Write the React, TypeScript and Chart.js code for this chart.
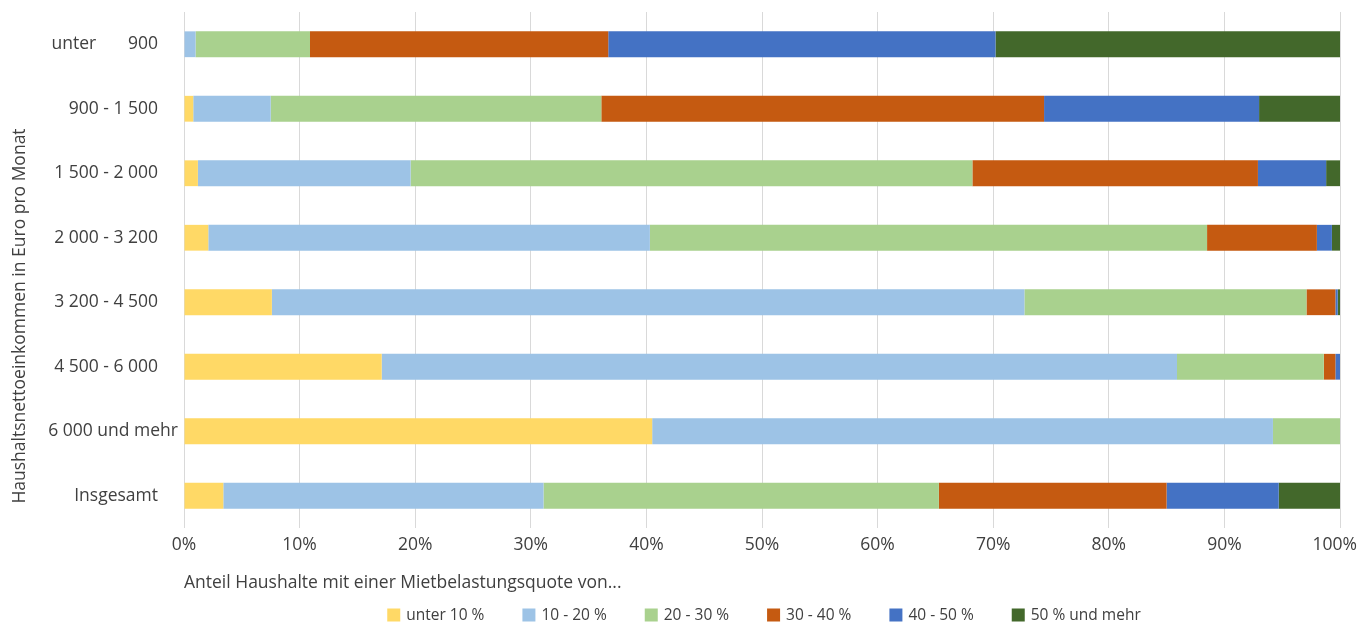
import React, { useEffect, useRef } from "react";
import { Chart, registerables } from "chart.js";

Chart.register(...registerables);

const categories = [
  "unter       900",
  "900 - 1 500",
  "1 500 - 2 000",
  "2 000 - 3 200",
  "3 200 - 4 500",
  "4 500 - 6 000",
  "6 000 und mehr",
  "Insgesamt",
];

const seriesNames = ["unter 10 %", "10 - 20 %", "20 - 30 %", "30 - 40 %", "40 - 50 %", "50 % und mehr"];
const seriesColors = ["#FFD966", "#9DC3E6", "#A9D18E", "#C55A11", "#4472C4", "#43682B"];

const unter10 = [0, 0.8, 1.2, 2.1, 7.6, 17.1, 40.5, 3.4];
const p10bis20 = [1.0, 6.7, 18.4, 38.2, 65.1, 68.8, 53.7, 27.7];
const p20bis30 = [9.9, 28.6, 48.6, 48.2, 24.4, 12.7, 5.8, 34.2];
const p30bis40 = [25.8, 38.3, 24.7, 9.5, 2.5, 1.0, 0, 19.7];
const p40bis50 = [33.5, 18.6, 5.9, 1.3, 0.2, 0.4, 0, 9.7];
const p50mehr = [29.8, 7.0, 1.2, 0.7, 0.2, 0, 0, 5.3];

const xTicks = [0, 10, 20, 30, 40, 50, 60, 70, 80, 90, 100];

const xTitle = "Anteil Haushalte mit einer Mietbelastungsquote von...";
const yTitle = "Haushaltsnettoeinkommen in Euro pro Monat";

const FONT = "'Open Sans', 'Noto Sans', sans-serif";
const TEXT = "#404040";

const overlay = {
  id: "overlay",
  beforeDraw(chart: any) {
    // Excel-like placement: keep the last x label inside the canvas and let the
    // long category label reach towards the plot area.
    const xs = chart.scales.x;
    const ys = chart.scales.y;
    if (xs && xs.getLabelItems) {
      const items = xs.getLabelItems();
      const last = items[items.length - 1];
      if (last) {
        last.options.textAlign = "right";
        last.options.translation = [chart.width - 3, last.options.translation[1]];
      }
    }
    if (ys && ys.getLabelItems) {
      const items = ys.getLabelItems();
      items.forEach((it: any) => {
        if (it.label === "6 000 und mehr") {
          it.options.translation = [it.options.translation[0] + 20, it.options.translation[1]];
        }
      });
    }
  },
  afterDraw(chart: any) {
    const ctx = chart.ctx as CanvasRenderingContext2D;
    // y axis title, centred over the full chart height (as in the original)
    ctx.save();
    ctx.fillStyle = TEXT;
    ctx.font = `17.5px ${FONT}`;
    ctx.textAlign = "center";
    ctx.textBaseline = "middle";
    ctx.translate(20, 316);
    ctx.rotate(-Math.PI / 2);
    ctx.fillText(yTitle, 0, 0);
    ctx.restore();

    // legend
    ctx.save();
    ctx.font = `15.5px ${FONT}`;
    ctx.textBaseline = "middle";
    ctx.textAlign = "left";
    const box = 13;
    const gapText = 6;
    const gapItem = 38;
    const widths = seriesNames.map((n) => ctx.measureText(n).width);
    const total = widths.reduce((a, w) => a + box + gapText + w, 0) + gapItem * (seriesNames.length - 1);
    const area = chart.chartArea;
    let x = (area.left + area.right) / 2 - total / 2 + 2;
    const cy = 615;
    seriesNames.forEach((n, i) => {
      ctx.fillStyle = seriesColors[i];
      ctx.fillRect(x, cy - box / 2, box, box);
      ctx.fillStyle = TEXT;
      ctx.fillText(n, x + box + gapText, cy + 1);
      x += box + gapText + widths[i] + gapItem;
    });
    ctx.restore();
  },
};

export default function App() {
  const ref = useRef<HTMLCanvasElement | null>(null);

  useEffect(() => {
    if (!ref.current) return;
    const values = [unter10, p10bis20, p20bis30, p30bis40, p40bis50, p50mehr];
    const chart = new Chart(ref.current, {
      type: "bar",
      data: {
        labels: categories,
        datasets: values.map((v, i) => ({
          label: seriesNames[i],
          data: v,
          backgroundColor: seriesColors[i],
          borderWidth: 0,
          categoryPercentage: 1,
          barPercentage: 0.4,
        })),
      },
      options: {
        indexAxis: "y",
        animation: false,
        responsive: false,
        maintainAspectRatio: false,
        layout: { padding: { top: 12, right: 20, left: 0, bottom: 29 } },
        scales: {
          x: {
            stacked: true,
            min: 0,
            max: 100,
            afterBuildTicks: (scale: any) => {
              scale.ticks = xTicks.map((v) => ({ value: v }));
            },
            afterFit: (scale: any) => {
              scale.height = 66;
              scale.paddingRight = 0;
              scale.paddingLeft = 0;
            },
            ticks: {
              callback: (v: any) => v + "%",
              color: TEXT,
              font: { family: FONT, size: 17.5 },
              padding: 7,
              maxRotation: 0,
            },
            grid: { color: "#D9D9D9", lineWidth: 1, drawTicks: false },
            border: { display: false },
            title: {
              display: true,
              text: xTitle,
              align: "start",
              color: TEXT,
              font: { family: FONT, size: 17.5 },
              padding: { top: 0, bottom: 0 },
            },
          },
          y: {
            stacked: true,
            afterFit: (scale: any) => {
              scale.width = 184;
            },
            ticks: {
              color: TEXT,
              font: { family: FONT, size: 17.5 },
              padding: 0,
            },
            grid: {
              display: true,
              color: "rgba(0,0,0,0)",
              drawTicks: true,
              tickLength: 26,
              tickColor: "rgba(0,0,0,0)",
            },
            border: { display: false },
            title: { display: false },
          },
        },
        plugins: {
          legend: { display: false },
          tooltip: { enabled: false },
        },
      } as any,
      plugins: [overlay],
    });
    return () => chart.destroy();
  }, []);

  return (
    <div style={{ position: "absolute", left: 0, top: 0, width: 1360, height: 623, background: "#fff" }}>
      <canvas ref={ref} width={1360} height={623} style={{ display: "block" }} />
    </div>
  );
}
